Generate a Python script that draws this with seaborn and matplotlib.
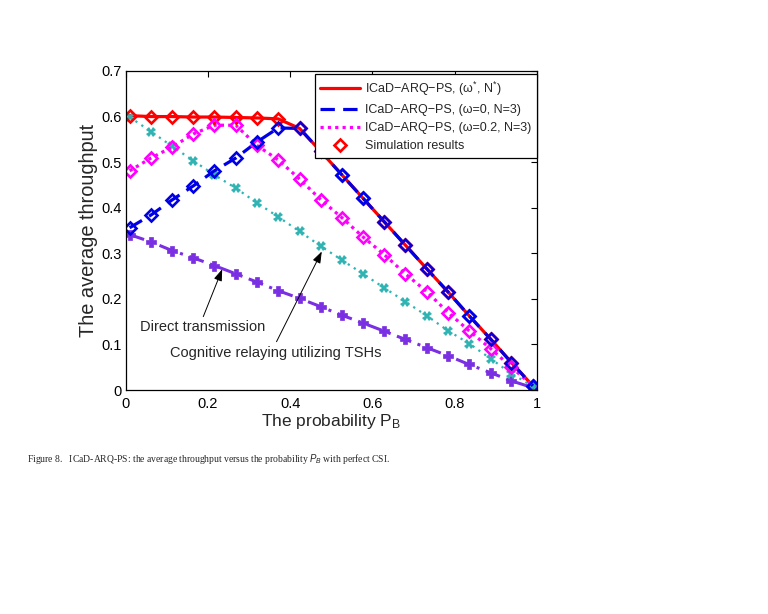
import numpy as np
import pandas as pd
import matplotlib
matplotlib.use("Agg")
import matplotlib.pyplot as plt
from matplotlib.lines import Line2D
import seaborn as sns

# ---------------- data ----------------
p_b = [0.010, 0.062, 0.113, 0.165, 0.216, 0.268, 0.319, 0.371, 0.423, 0.474,
       0.526, 0.577, 0.629, 0.680, 0.732, 0.784, 0.835, 0.887, 0.938, 0.990]

opt_thr = [0.602, 0.600, 0.600, 0.599, 0.599, 0.598, 0.597, 0.595, 0.574, 0.524,
           0.472, 0.421, 0.369, 0.318, 0.266, 0.215, 0.163, 0.112, 0.060, 0.009]
w0_thr = [0.356, 0.384, 0.417, 0.448, 0.481, 0.509, 0.544, 0.575, 0.574, 0.524,
          0.472, 0.421, 0.369, 0.318, 0.266, 0.215, 0.163, 0.112, 0.060, 0.009]
w02_thr = [0.481, 0.509, 0.533, 0.562, 0.581, 0.581, 0.537, 0.505, 0.463, 0.418,
           0.378, 0.336, 0.297, 0.255, 0.216, 0.170, 0.130, 0.091, 0.050, 0.009]
tsh_thr = [0.599, 0.567, 0.535, 0.503, 0.472, 0.443, 0.411, 0.380, 0.348, 0.316,
           0.285, 0.255, 0.224, 0.194, 0.163, 0.130, 0.102, 0.069, 0.036, 0.008]
direct_thr = [0.341, 0.325, 0.306, 0.290, 0.273, 0.255, 0.237, 0.218, 0.201, 0.183,
              0.164, 0.147, 0.129, 0.111, 0.093, 0.075, 0.056, 0.038, 0.020, 0.005]

legend_labels = ["ICaD\u2212ARQ\u2212PS, (\u03c9$^{*}$, N$^{*}$)",
                 "ICaD\u2212ARQ\u2212PS, (\u03c9=0, N=3)",
                 "ICaD\u2212ARQ\u2212PS, (\u03c9=0.2, N=3)",
                 "Simulation results"]
x_ticks = [0, 0.2, 0.4, 0.6, 0.8, 1]
x_ticklabels = ["0", "0.2", "0.4", "0.6", "0.8", "1"]
y_ticks = [0, 0.1, 0.2, 0.3, 0.4, 0.5, 0.6, 0.7]
y_ticklabels = ["0", "0.1", "0.2", "0.3", "0.4", "0.5", "0.6", "0.7"]

# ---------------- style ----------------
sns.set_style("white")
plt.rcParams["font.family"] = ["Liberation Sans", "DejaVu Sans"]
plt.rcParams["mathtext.fontset"] = "custom"
plt.rcParams["mathtext.rm"] = "Liberation Sans"
plt.rcParams["mathtext.it"] = "Liberation Sans:italic"
plt.rcParams["axes.unicode_minus"] = True

RED = "#ff0000"
BLUE = "#0000e6"
MAG = "#ff00ff"
CYAN = "#2fb3b3"
PURP = "#7a2fe3"

fig = plt.figure(figsize=(7.68, 6.14), dpi=100)
fig.patch.set_facecolor("white")
L, R, T, B = 125.5, 537, 71, 390
ax = fig.add_axes([L / 768, 1 - B / 614, (R - L) / 768, (B - T) / 614])
ax.set_facecolor("white")

common = dict(ax=ax, errorbar=None, sort=False, legend=False)

# theory lines
sns.lineplot(x=p_b, y=opt_thr, color=RED, linewidth=2.3, linestyle="-", **common)
h_opt = ax.lines[-1]
sns.lineplot(x=p_b, y=direct_thr, color=PURP, linewidth=2.2,
             linestyle=(0, (5, 2.2, 1, 2.2)), marker="P", markersize=7.5,
             markerfacecolor=PURP, markeredgecolor=PURP, markeredgewidth=0.5, **common)
sns.lineplot(x=p_b, y=tsh_thr, color=CYAN, linewidth=1.6,
             linestyle=(0, (1, 2.2)), marker="X", markersize=7,
             markerfacecolor=CYAN, markeredgecolor="none", markeredgewidth=0, **common)
sns.lineplot(x=p_b, y=w02_thr, color=MAG, linewidth=2.3,
             linestyle=(0, (1, 1.3)), **common)
h_w02 = ax.lines[-1]
sns.lineplot(x=p_b, y=w0_thr, color=BLUE, linewidth=2.3,
             linestyle=(0, (4.5, 2.6)), **common)
h_w0 = ax.lines[-1]

# simulation markers
diamond = dict(linestyle="none", marker="D", markersize=5.9, markerfacecolor="none",
               markeredgewidth=1.9)
sns.lineplot(x=p_b, y=opt_thr, color=RED, markeredgecolor=RED, **diamond, **common)
sns.lineplot(x=p_b, y=w02_thr, color=MAG, markeredgecolor=MAG, **diamond, **common)
sns.lineplot(x=p_b, y=w0_thr, color=BLUE, markeredgecolor=BLUE, **diamond, **common)

# axes formatting
ax.set_xlim(0, 1)
ax.set_ylim(0, 0.7)
ax.set_xticks(x_ticks)
ax.set_xticklabels(x_ticklabels)
ax.set_yticks(y_ticks)
ax.set_yticklabels(y_ticklabels)
ax.tick_params(direction="in", length=4, width=0.8, top=True, right=True,
               labelsize=10.5, colors="black")
ax.tick_params(axis="y", pad=2.8)
ax.tick_params(axis="x", pad=5)
for sp in ax.spines.values():
    sp.set_visible(True)
    sp.set_color("black")
    sp.set_linewidth(0.9)
ax.set_xlabel("The probability P$_{\\mathregular{B}}$", fontsize=12.5, labelpad=1)
ax.set_ylabel("The average throughput", fontsize=14.4, labelpad=2)
ax.grid(False)

# legend
sim_handle = Line2D([], [], linestyle="none", marker="D", markersize=5.9,
                    markerfacecolor="none", markeredgecolor=RED, markeredgewidth=1.9)
leg = ax.legend([h_opt, h_w0, h_w02, sim_handle], legend_labels,
                loc="upper right", bbox_to_anchor=(1.0, 0.991), borderaxespad=0,
                fontsize=9.0, frameon=True, fancybox=False, framealpha=1,
                edgecolor="black", handlelength=3.2, handletextpad=0.4,
                labelspacing=0.5, borderpad=0.45)
leg.get_frame().set_linewidth(0.9)

# annotations
arrow = dict(arrowstyle="-|>,head_length=0.7,head_width=0.25", color="black",
             lw=0.7, shrinkA=0, shrinkB=0)
ax.annotate("", xy=(0.235, 0.265), xytext=(0.189, 0.161), arrowprops=arrow)
ax.annotate("", xy=(0.477, 0.304), xytext=(0.367, 0.106), arrowprops=arrow)
ax.text(0.035, 0.1295, "Direct transmission", fontsize=10.5, va="baseline", ha="left")
ax.text(0.108, 0.0718, "Cognitive relaying utilizing TSHs", fontsize=10.5,
        va="baseline", ha="left")

# caption
fig.text(27 / 768, 1 - 459 / 614,
         "Figure 8.   ICaD-ARQ-PS: the average throughput versus the probability "
         "$P_B$ with perfect CSI.",
         fontsize=6.9, family=["Liberation Serif", "DejaVu Serif"], va="center",
         ha="left")

fig.savefig("out.png", dpi=100, facecolor="white")
